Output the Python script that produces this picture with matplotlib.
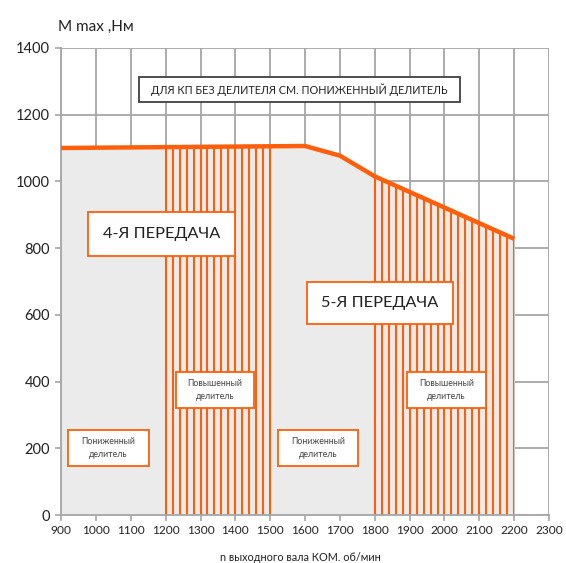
import numpy as np
import matplotlib
matplotlib.use("Agg")
import matplotlib.pyplot as plt
from matplotlib.patches import Rectangle

plt.rcParams['font.family'] = ['Lato', 'DejaVu Sans']

# ---------------------------
# data
# ---------------------------
rpm = [900, 1600, 1700, 1800, 2200]
torque = [1100, 1106, 1077, 1015, 828]

x_ticks = [900, 1000, 1100, 1200, 1300, 1400, 1500, 1600, 1700, 1800, 1900, 2000, 2100, 2200, 2300]
y_ticks = [0, 200, 400, 600, 800, 1000, 1200, 1400]

# bands with the upper divider (vertical stripes)
high_bands = [(1200, 1500), (1800, 2200)]
stripe_step = 20

orange = '#FF5F0A'
grey_fill = '#EBEBEB'
grid_c = '#A6A6A6'

fig = plt.figure(figsize=(5.66, 5.63), dpi=100)
ax = fig.add_axes([0.108, 0.085, 0.862, 0.830])

ax.set_xlim(900, 2300)
ax.set_ylim(0, 1400)
ax.set_xticks(x_ticks)
ax.set_yticks(y_ticks)

# grid behind everything
for xv in x_ticks:
    ax.axvline(xv, color=grid_c, lw=1.3, zorder=0)
for yv in y_ticks:
    ax.axhline(yv, color=grid_c, lw=1.3, zorder=0)

# area under the torque curve
poly = ax.fill_between(rpm, 0, torque, color=grey_fill, lw=0, zorder=1)

# vertical stripes for the upper divider, clipped by the area
for lo, hi in high_bands:
    xs = np.arange(lo, hi + 1, stripe_step)
    vl = ax.vlines(xs, 0, 1400, color=orange, lw=1.5, zorder=2)
    vl.set_clip_path(poly.get_paths()[0], transform=ax.transData)

ax.plot(rpm, torque, color=orange, lw=3.2, zorder=3, solid_capstyle='butt')

# ---------------------------
# labels in boxes
# ---------------------------
def box(x0, x1, y0, y1, text, size, ec, color='#222222'):
    ax.add_patch(Rectangle((x0, y0), x1 - x0, y1 - y0, fc='white', ec=ec,
                           lw=1.3, zorder=4))
    ax.text((x0 + x1) / 2, (y0 + y1) / 2, text, ha='center', va='center',
            fontsize=size, color=color, zorder=5, linespacing=1.5)

box(1124, 2045, 1238, 1313, 'ДЛЯ КП БЕЗ ДЕЛИТЕЛЯ СМ. ПОНИЖЕННЫЙ ДЕЛИТЕЛЬ', 7.8, '#404040')
box(977, 1399, 776, 908, '4-Я ПЕРЕДАЧА', 11.8, orange)
box(1606, 2024, 573, 698, '5-Я ПЕРЕДАЧА', 11.8, orange)
box(1230, 1454, 321, 429, 'Повышенный\nделитель', 6.3, orange, '#444444')
box(1893, 2119, 321, 429, 'Повышенный\nделитель', 6.3, orange, '#444444')
box(920, 1152, 147, 255, 'Пониженный\nделитель', 6.3, orange, '#444444')
box(1522, 1752, 147, 255, 'Пониженный\nделитель', 6.3, orange, '#444444')

# axes styling
for side in ['top', 'right']:
    ax.spines[side].set_visible(False)
for side in ['left', 'bottom']:
    ax.spines[side].set_color(grid_c)
    ax.spines[side].set_linewidth(1.3)
ax.tick_params(axis='both', colors=grid_c, length=4, width=1.2)
ax.tick_params(axis='y', labelcolor='#222222', labelsize=10.5, pad=4)
ax.tick_params(axis='x', labelcolor='#222222', labelsize=8.6, pad=3)

fig.text(0.103, 0.952, 'М max ,Нм', fontsize=11, color='#222222', ha='left', va='center')
fig.text(0.53, 0.010, 'n выходного вала КОМ. об/мин', fontsize=7.8, color='#222222',
         ha='center', va='center')

fig.savefig('out.png', dpi=100)
